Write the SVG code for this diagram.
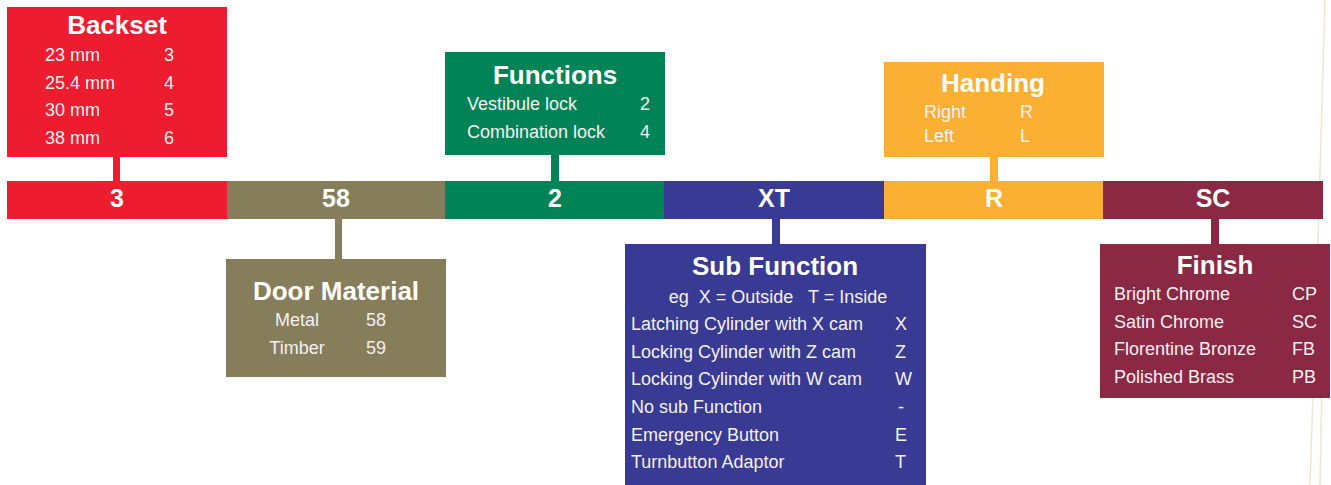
<svg xmlns="http://www.w3.org/2000/svg" width="1331" height="485" viewBox="0 0 1331 485">
<style>
text{font-family:"Liberation Sans",Arial,sans-serif;fill:#fff}
.t{font-weight:bold;font-size:26px;text-anchor:middle}
.b{font-weight:bold;font-size:25px;text-anchor:middle}
.r{font-size:18px;fill:#f4f0f2}
.c{text-anchor:middle}
</style>
<rect width="1331" height="485" fill="#fff"/>
<path d="M1325,0 L1318,240 L1310,485" fill="none" stroke="#efe6d2" stroke-width="1.5"/>
<path d="M1322,380 L1320,485" fill="none" stroke="#efe6d2" stroke-width="1.5"/>
<g id="connectors">
<rect x="113" y="157" width="7" height="24" fill="#ED1C2E"/>
<rect x="335" y="219" width="7" height="40" fill="#867D5A"/>
<rect x="551" y="155" width="8" height="26" fill="#008457"/>
<rect x="772" y="219" width="8" height="25" fill="#383A93"/>
<rect x="990" y="157" width="8" height="24" fill="#FBB034"/>
<rect x="1211" y="219" width="8" height="25" fill="#8B2843"/>
</g>
<g id="bar">
<rect x="7" y="181" width="220" height="38" fill="#ED1C2E"/>
<rect x="227" y="181" width="218" height="38" fill="#867D5A"/>
<rect x="445" y="181" width="219" height="38" fill="#008457"/>
<rect x="664" y="181" width="220" height="38" fill="#383A93"/>
<rect x="884" y="181" width="219" height="38" fill="#FBB034"/>
<rect x="1103" y="181" width="220" height="38" fill="#8B2843"/>
<text class="b" x="117" y="207">3</text>
<text class="b" x="336" y="207">58</text>
<text class="b" x="555" y="207">2</text>
<text class="b" x="774" y="207">XT</text>
<text class="b" x="994" y="207">R</text>
<text class="b" x="1213" y="207">SC</text>
</g>
<g id="backset">
<rect x="7" y="7" width="220" height="150" fill="#ED1C2E"/>
<text class="t" x="117" y="34">Backset</text>
<text class="r" x="45" y="61">23 mm</text><text class="r" x="164" y="61">3</text>
<text class="r" x="45" y="89">25.4 mm</text><text class="r" x="164" y="89">4</text>
<text class="r" x="45" y="116">30 mm</text><text class="r" x="164" y="116">5</text>
<text class="r" x="45" y="144">38 mm</text><text class="r" x="164" y="144">6</text>
</g>
<g id="door-material">
<rect x="226" y="259" width="220" height="118" fill="#867D5A"/>
<text class="t" x="336" y="300">Door Material</text>
<text class="r c" x="297" y="326">Metal</text><text class="r" x="366" y="326">58</text>
<text class="r c" x="297" y="354">Timber</text><text class="r" x="366" y="354">59</text>
</g>
<g id="functions">
<rect x="445" y="52" width="220" height="103" fill="#008457"/>
<text class="t" x="555" y="84">Functions</text>
<text class="r" x="467" y="110">Vestibule lock</text><text class="r" x="640" y="110">2</text>
<text class="r" x="467" y="138">Combination lock</text><text class="r" x="640" y="138">4</text>
</g>
<g id="sub-function">
<rect x="625" y="244" width="301" height="241" fill="#383A93"/>
<text class="t" x="775" y="275">Sub Function</text>
<text class="r c" x="778" y="303" xml:space="preserve">eg  X = Outside   T = Inside</text>
<text class="r" x="631" y="330">Latching Cylinder with X cam</text><text class="r" x="895" y="330">X</text>
<text class="r" x="631" y="358">Locking Cylinder with Z cam</text><text class="r" x="895" y="358">Z</text>
<text class="r" x="631" y="385">Locking Cylinder with W cam</text><text class="r" x="895" y="385">W</text>
<text class="r" x="631" y="413">No sub Function</text><text class="r" x="898" y="413">-</text>
<text class="r" x="631" y="441">Emergency Button</text><text class="r" x="895" y="441">E</text>
<text class="r" x="631" y="468">Turnbutton Adaptor</text><text class="r" x="895" y="468">T</text>
</g>
<g id="handing">
<rect x="884" y="62" width="220" height="95" fill="#FBB034"/>
<text class="t" x="993" y="92">Handing</text>
<text class="r" x="924" y="118">Right</text><text class="r" x="1020" y="118">R</text>
<text class="r" x="924" y="142">Left</text><text class="r" x="1020" y="142">L</text>
</g>
<g id="finish">
<rect x="1100" y="244" width="230" height="154" fill="#8B2843"/>
<text class="t" x="1215" y="274">Finish</text>
<text class="r" x="1114" y="300">Bright Chrome</text><text class="r" x="1292" y="300">CP</text>
<text class="r" x="1114" y="328">Satin Chrome</text><text class="r" x="1292" y="328">SC</text>
<text class="r" x="1114" y="355">Florentine Bronze</text><text class="r" x="1292" y="355">FB</text>
<text class="r" x="1114" y="383">Polished Brass</text><text class="r" x="1292" y="383">PB</text>
</g>
</svg>
